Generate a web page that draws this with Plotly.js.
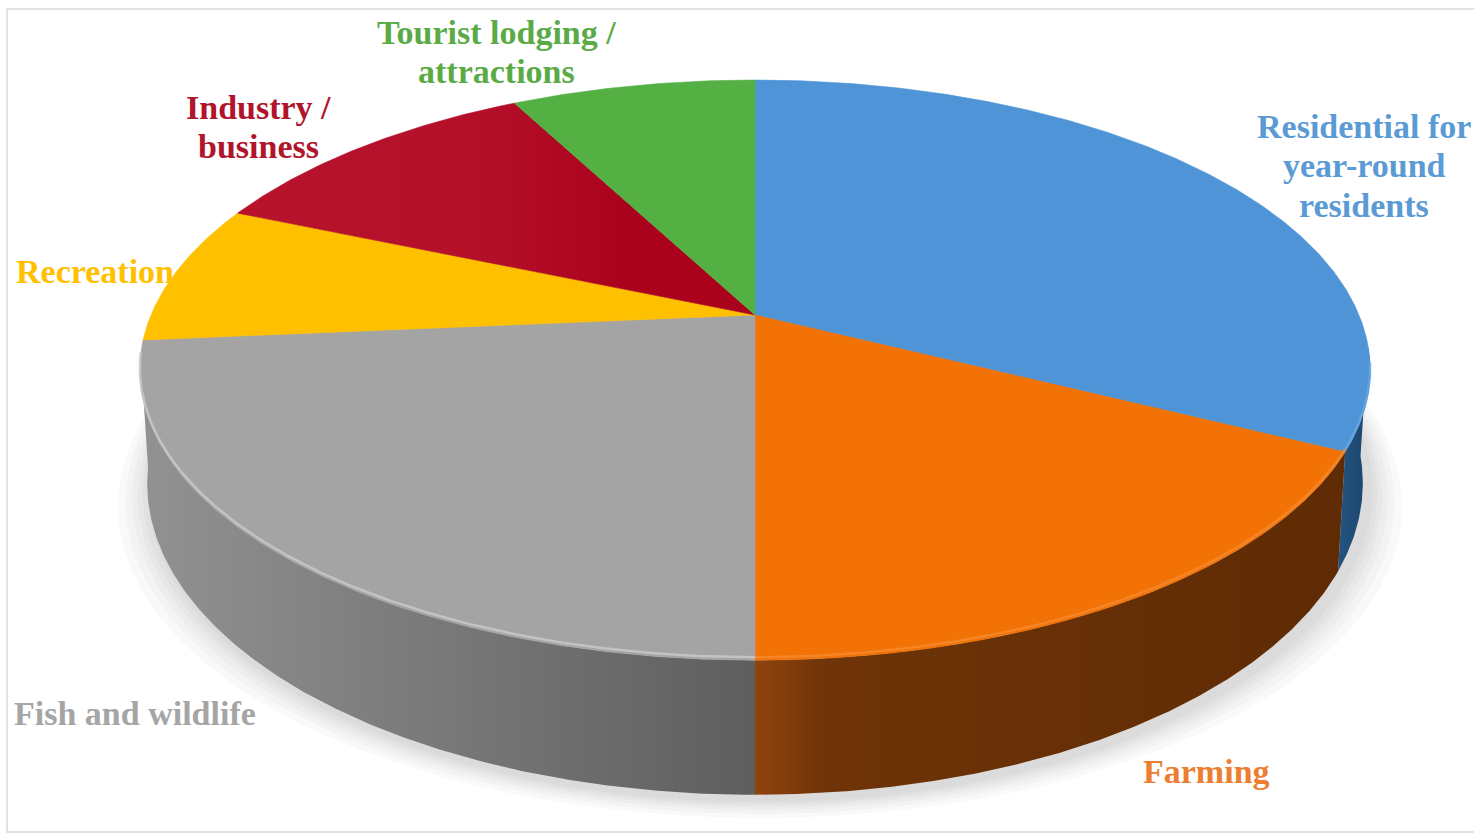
<!DOCTYPE html>
<html>
<head>
<meta charset="utf-8">
<script src="https://cdn.plot.ly/plotly-3.0.1.min.js"></script>
<style>html,body{margin:0;padding:0;background:#fff;}#chart{width:1474px;height:835px;}</style>
</head>
<body>
<div id="chart"></div>
<script>
// ---- data ----
const categories = ['Residential for year-round residents', 'Farming', 'Fish and wildlife', 'Recreation', 'Industry / business', 'Tourist lodging / attractions'];
const shares = [32.4, 17.6, 23.6, 7.8, 10.9, 7.7];
const labelLines = [
  ['Residential for', 'year-round', 'residents'],
  ['Farming'],
  ['Fish and wildlife'],
  ['Recreation'],
  ['Industry /', 'business'],
  ['Tourist lodging /', 'attractions']
];

// ---- styles ----
const topColors = ['#4e94d6', '#f27205', '#a4a4a4', '#ffc000', '#b5102a', '#54b043'];
const topGradients = [null, null, null, null,
  [[0, '#b8132b'], [0.45, '#b5102a'], [0.75, '#aa021c'], [1, '#aa021c']], null];
const labelColors = ['#5b9bd5', '#ed7d31', '#a5a5a5', '#ffc000', '#b0152c', '#5aab46'];
const sideScales = [
  [[0, '#245483'], [1, '#1b4469']],
  [[0, '#8f440e'], [0.12, '#6f3408'], [1, '#5e2b04']],
  [[0, '#929292'], [1, '#5e5e5e']],
  [[0, '#c99700'], [1, '#a07800']],
  [[0, '#7d0a1a'], [1, '#650615']],
  [[0, '#3c7d2e'], [1, '#2f6424']]
];
const rimColors = ['#6aa6de', '#f58a2e', '#cacaca', '#ffd040', '#c82a40', '#70c060'];
// label anchor positions (pixels): first line centre, alignment
const labelPos = [
  {x: 1364, y: 126, xa: 'center'},
  {x: 1206, y: 771, xa: 'center'},
  {x: 12, y: 713, xa: 'left'},
  {x: 14, y: 271, xa: 'left'},
  {x: 258, y: 107, xa: 'center'},
  {x: 496, y: 32, xa: 'center'}
];
const LINE_GAP = 39.5;

// ---- geometry of the projected pie ----
const CX = 755, CY = 315, A = 604, B = 279.6, K = 0.19, T = 109;
function proj(theta, depth) {
  const X = Math.sin(theta), Z = Math.cos(theta);
  const w = 1 / (1 + K * Z);
  const shrink = 1 - 0.012 * depth;
  return [CX + A * X * w * shrink, CY - B * Z * w + depth * T * w];
}
const deg = Math.PI / 180;
function arc(a0, a1, depth) {
  const pts = [];
  const n = Math.max(2, Math.ceil((a1 - a0) / (0.4 * deg)));
  for (let i = 0; i <= n; i++) pts.push(proj(a0 + (a1 - a0) * i / n, depth));
  return pts;
}

const total = shares.reduce((s, v) => s + v, 0);
const bounds = [];
let acc = 0;
shares.forEach(v => { const a0 = acc / total * 2 * Math.PI; acc += v; bounds.push([a0, acc / total * 2 * Math.PI]); });

const traces = [];

// soft shadow under the pie
const shadowLayers = [36, 28, 21, 15, 10, 5];
shadowLayers.forEach(e => {
  const xs = [], ys = [];
  for (let i = 0; i <= 360; i++) {
    const p = proj(i * deg, 1);
    xs.push(CX + (p[0] - CX) * (1 + e / 640) + 5);
    ys.push(p[1] + e * 0.5 + 5);
  }
  traces.push({x: xs, y: ys, type: 'scatter', mode: 'lines', fill: 'toself',
    fillcolor: 'rgba(0,0,0,0.022)', line: {width: 0}, hoverinfo: 'skip', showlegend: false});
});

// side walls (visible front part only)
const frontLo = 96 * deg, frontHi = 262 * deg;
bounds.forEach((b, i) => {
  const a0 = Math.max(b[0], frontLo), a1 = Math.min(b[1], frontHi);
  if (a1 <= a0) return;
  const top = arc(a0, a1, 0), bot = arc(a0, a1, 1).reverse();
  const pts = top.concat(bot);
  pts.push(top[0]);
  traces.push({
    x: pts.map(p => p[0]), y: pts.map(p => p[1]), type: 'scatter', mode: 'lines',
    fill: 'toself', fillgradient: {type: 'horizontal', colorscale: sideScales[i]},
    line: {width: 0}, hoverinfo: 'skip', showlegend: false
  });
});

// top faces
bounds.forEach((b, i) => {
  const pts = [[CX, CY]].concat(arc(b[0], b[1], 0));
  pts.push([CX, CY]);
  const tr = {
    x: pts.map(p => p[0]), y: pts.map(p => p[1]), type: 'scatter', mode: 'lines',
    fill: 'toself', line: {width: 0.6, color: topColors[i]},
    name: categories[i], hoverinfo: 'name', showlegend: false
  };
  if (topGradients[i]) tr.fillgradient = {type: 'horizontal', colorscale: topGradients[i]};
  else tr.fillcolor = topColors[i];
  traces.push(tr);
});

// bevel highlight along the front rim
bounds.forEach((b, i) => {
  const a0 = Math.max(b[0], 100 * deg), a1 = Math.min(b[1], 262 * deg);
  if (a1 <= a0) return;
  const pts = arc(a0, a1, 0).map(p => [p[0], p[1] - 3]);
  traces.push({
    x: pts.map(p => p[0]), y: pts.map(p => p[1]), type: 'scatter', mode: 'lines',
    line: {width: 2.5, color: rimColors[i]}, opacity: 0.8, hoverinfo: 'skip', showlegend: false
  });
});

const annotations = [];
categories.forEach((c, i) => {
  labelLines[i].forEach((line, j) => {
    annotations.push({
      x: labelPos[i].x, y: labelPos[i].y + j * LINE_GAP, xref: 'x', yref: 'y',
      text: line, showarrow: false, xanchor: labelPos[i].xa, yanchor: 'middle',
      font: {family: 'Liberation Serif, serif', size: 34, color: labelColors[i], weight: 'bold'}
    });
  });
});

const layout = {
  width: 1474, height: 835,
  margin: {l: 0, r: 0, t: 0, b: 0},
  paper_bgcolor: '#ffffff', plot_bgcolor: '#ffffff',
  xaxis: {range: [0, 1474], visible: false, fixedrange: true},
  yaxis: {range: [835, 0], visible: false, fixedrange: true},
  showlegend: false,
  annotations: annotations,
  shapes: [{type: 'rect', xref: 'x', yref: 'y', x0: 7, y0: 9, x1: 1500, y1: 832,
    line: {color: '#d9d9d9', width: 1.5}, layer: 'below'}]
};

Plotly.newPlot('chart', traces, layout, {displayModeBar: false, staticPlot: true});
</script>
</body>
</html>
